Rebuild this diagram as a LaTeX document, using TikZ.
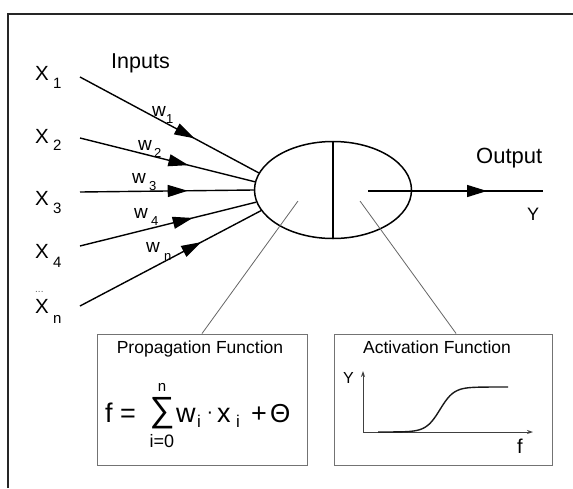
\documentclass[tikz,border=0pt]{standalone}
\usepackage{fontspec}
\setmainfont{Liberation Sans}
\usetikzlibrary{arrows.meta,decorations.markings,shapes.geometric,calc}
\newcommand{\fsz}[1]{\fontsize{#1}{#1}\selectfont}
\begin{document}
\begin{tikzpicture}[x=1pt,y=-1pt,
  lbl/.style={inner sep=0pt, anchor=base west},
  inp/.style={line width=1.4pt, postaction={decorate},
    decoration={markings, mark=at position #1 with {\arrow{Triangle[length=20pt,width=12pt]}}}},
  boxframe/.style={draw=black!55, line width=0.9pt, inner sep=0pt},
  guide/.style={draw=black!60, line width=0.8pt},
  axisline/.style={draw=black!75, line width=0.9pt},
  xlab/.style={lbl, font=\fsz{20.5}},
  xsub/.style={lbl, font=\fsz{15}},
  wlab/.style={lbl, font=\fsz{19}},
  wsub/.style={lbl, font=\fsz{13}},
  fml/.style={lbl, font=\fsz{27}},
  fsub/.style={lbl, font=\fsz{17}}]
\useasboundingbox (0,0) rectangle (573,488);
\fill[white] (0,0) rectangle (573,488);
% outer frame
\draw[line width=2pt, black!85] (7.5,488) -- (7.5,13.5) -- (573,13.5);

% neuron
\node[draw, ellipse, line width=1.5pt, minimum width=157pt, minimum height=97pt, inner sep=0pt] (neuron) at (333,190) {};
\draw[line width=1.5pt] (neuron.north) -- (neuron.south);

% inputs
\node[lbl, font=\fsz{21.5}] (inputs) at (111,68) {Inputs};
\node[xlab] (x1) at (35,80) {X};  \node[xsub] (x1s) at (53,88) {1};
\node[xlab] (x2) at (35,143) {X}; \node[xsub] (x2s) at (53,150) {2};
\node[xlab] (x3) at (35,205) {X}; \node[xsub] (x3s) at (53,213) {3};
\node[xlab] (x4) at (35,258) {X}; \node[xsub] (x4s) at (53,267) {4};
\node[lbl, font=\fsz{10}, text=black!60] (dots) at (35,292) {...};
\node[xlab] (xn) at (35,313) {X}; \node[xsub] (xns) at (53,323) {n};

\coordinate (s1) at (80,77);
\coordinate (s2) at (80,138);
\coordinate (s3) at (80,192);
\coordinate (s4) at (80,246);
\coordinate (sn) at (80,306);
\draw[inp=0.64] (s1) -- (neuron.167);
\draw[inp=0.62] (s2) -- (neuron.174);
\draw[inp=0.62] (s3) -- (neuron.180);
\draw[inp=0.64] (s4) -- (neuron.189);
\draw[inp=0.67] (sn) -- (neuron.196);

% weights
\node[wlab] (w1) at (152,116) {w}; \node[wsub] (w1s) at (166,123) {1};
\node[wlab] (w2) at (138,150) {w}; \node[wsub] (w2s) at (154,157) {2};
\node[wlab] (w3) at (132,183) {w}; \node[wsub] (w3s) at (149,190) {3};
\node[wlab] (w4) at (134,218) {w}; \node[wsub] (w4s) at (151,225) {4};
\node[wlab] (wn) at (146,252) {w}; \node[wsub] (wns) at (164,260) {n};

% output
\coordinate (ystart) at (368,191);
\coordinate (yend) at (543,191);
\draw[inp=0.68] (ystart) -- (yend);
\node[lbl, font=\fsz{22}] (output) at (476,163) {Output};
\node[lbl, font=\fsz{18}] (yout) at (527,220) {Y};

% boxes
\node[boxframe, minimum width=210pt, minimum height=131pt] (prop) at (202,399.5) {};
\node[boxframe, minimum width=218pt, minimum height=131pt] (act) at (443,399.5) {};
\coordinate (pl) at (298,201);
\coordinate (al) at (360,201);
\draw[guide] (pl) -- (prop.north);
\draw[guide] (al) -- ($(act.north west)!0.56!(act.north east)$);

% propagation function
\node[inner sep=0pt, anchor=base, font=\fsz{17.5}] (ptitle) at (200,353) {Propagation Function};
\node[fml] (feq) at (105,422) {f =};
\node[inner sep=0pt, font=\fsz{35}] (sum) at (162,413) {∑};
\node[inner sep=0pt, font=\fsz{15}] (sumtop) at (162,387) {n};
\node[inner sep=0pt, font=\fsz{18}] (sumbot) at (162,441) {i=0};
\node[fml] (fw) at (176,422) {w};
\node[fsub] (fwi) at (197,427) {i};
\node[inner sep=0pt, font=\fsz{20}] (fdot) at (210,415) {·};
\node[fml] (fx) at (217,422) {x};
\node[fsub] (fxi) at (236,427) {i};
\node[fml] (fplus) at (251,422) {+};
\node[lbl, font=\fsz{26}] (ftheta) at (270,422) {Θ};

% activation function
\node[inner sep=0pt, anchor=base, font=\fsz{17.5}] (atitle) at (437,353) {Activation Function};
\coordinate (org) at (363,432);
\coordinate (ytop) at (363,371);
\coordinate (xend) at (533,432);
\draw[axisline, -{Stealth[length=6pt,width=4pt]}] (org) -- (ytop);
\draw[axisline, -{Stealth[length=6pt,width=4pt]}] (org) -- (xend);
\node[lbl, font=\fsz{16}] (ay) at (343,383) {Y};
\node[lbl, font=\fsz{20}] (af) at (517,453) {f};
\draw[line width=1.4pt, black!90] plot[domain=378:508, samples=90, smooth] (\x, {432-45/(1+exp(-(\x-440)/7))});
\end{tikzpicture}
\end{document}
